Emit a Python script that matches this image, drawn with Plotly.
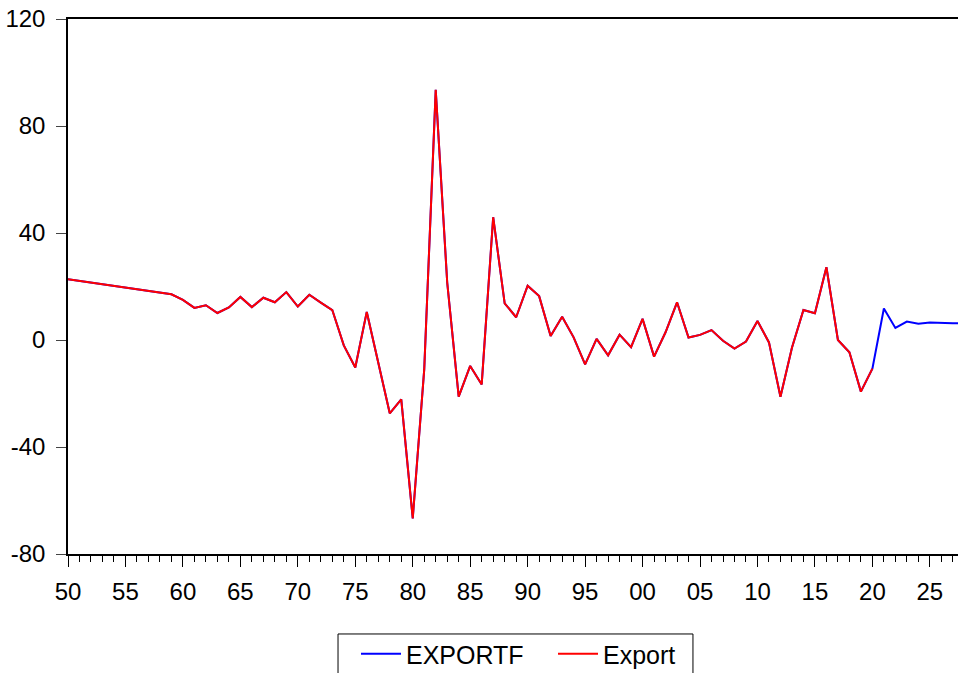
import plotly.graph_objects as go

# Annual growth of exports (%), history and forecast
hist_years = [1950] + list(range(1959, 2021))
export = [22.7,
          17.1, 15.0, 12.0, 13.0, 10.1, 12.2, 16.1, 12.3, 15.8, 14.1, 17.9, 12.5, 16.9,
          14.0, 11.2, -2.0, -10.3, 10.5, -8.5, -27.4, -22.2,
          -66.7, -11.0, 93.5, 21.5, -21.2, -9.7, -16.6, 45.9, 13.7, 8.5,
          20.3, 16.4, 1.5, 8.7, 1.0, -9.1, 0.4, -5.7, 2.0, -2.7,
          7.9, -6.2, 2.9, 14.1, 0.9, 1.9, 3.7, -0.3, -3.2, -0.6,
          7.1, -0.9, -21.2, -2.9, 11.2, 10.0, 27.2, 0.0, -4.6, -19.3, -10.7]

fc_years = [2021, 2022, 2023, 2024, 2025, 2026, 2027, 2028]
forecast = [11.8, 4.5, 6.9, 6.1, 6.5, 6.3, 6.3, 6.3]

exportf_years = hist_years + fc_years
exportf = export + forecast

x_tickvals = list(range(1950, 2030, 5))
x_ticktext = [str(y)[-2:] for y in x_tickvals]
y_tickvals = [-80, -40, 0, 40, 80, 120]
y_ticktext = ["-80", "-40", "0", "40", "80", "120"]

FONT = "Liberation Sans, Arial, sans-serif"

fig = go.Figure()
fig.add_trace(go.Scatter(x=exportf_years, y=exportf, mode="lines", name="EXPORTF",
                         line=dict(color="#0000FF", width=2)))
fig.add_trace(go.Scatter(x=hist_years, y=export, mode="lines", name="Export",
                         line=dict(color="#FF0000", width=2)))

# frame around the legend entries, below the plot area
fig.add_shape(type="rect", xref="paper", yref="paper",
              x0=0.3034, x1=0.7022, y0=-0.24, y1=-0.1495,
              line=dict(color="black", width=1), fillcolor="rgba(0,0,0,0)",
              layer="above")

fig.update_layout(
    width=958, height=673,
    margin=dict(l=68, r=0, t=19, b=119, autoexpand=False),
    paper_bgcolor="white", plot_bgcolor="white",
    font=dict(family=FONT, color="black"),
    showlegend=True,
    legend=dict(orientation="h", x=0.3236, xanchor="left",
                yref="container", y=1 - 631 / 673, yanchor="top",
                borderwidth=0, bgcolor="rgba(0,0,0,0)",
                font=dict(size=25, family=FONT), itemwidth=40,
                entrywidth=142, entrywidthmode="pixels"),
    xaxis=dict(range=[1950, 2027.45], tickmode="array", tickvals=x_tickvals,
               ticktext=x_ticktext, ticks="outside", ticklen=11, tickwidth=1,
               tickcolor="black", showgrid=False, zeroline=False, showline=True,
               linecolor="black", linewidth=1.5, mirror=True, automargin=False,
               tickfont=dict(size=24, family=FONT), ticklabelstandoff=4,
               minor=dict(dtick=1, ticks="outside", ticklen=6, tickwidth=1,
                          tickcolor="black", showgrid=False)),
    yaxis=dict(range=[-80, 120], tickmode="array", tickvals=y_tickvals,
               ticktext=y_ticktext, ticks="outside", ticklen=10, tickwidth=1,
               tickcolor="#444444", showgrid=False, zeroline=False, showline=True,
               linecolor="black", linewidth=1.5, mirror=False, automargin=False,
               tickfont=dict(size=24, family=FONT), ticklabelstandoff=6),
)

fig.write_html("out.html")
